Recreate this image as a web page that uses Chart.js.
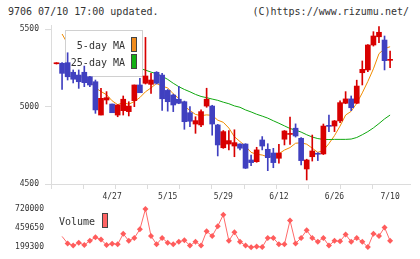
<!DOCTYPE html>
<html>
<head>
<meta charset="utf-8">
<script src="https://cdn.jsdelivr.net/npm/chart.js@4/dist/chart.umd.min.js"></script>
<style>
  body { margin: 0; background: #fff; }
  #wrap { position: relative; width: 420px; height: 259px; font-family: 'DejaVu Sans Mono', monospace; color: #333; }
  #wrap canvas { position: absolute; left: 0; top: 0; }
  .hdr { position: absolute; top: 5px; font-size: 10px; line-height: 14px; white-space: pre; }
</style>
</head>
<body>
<div id="wrap">
  <div class="hdr" style="left:8px">9706 07/10 17:00 updated.</div>
  <div class="hdr" style="right:11px">(C)https://www.rizumu.net/</div>
  <canvas id="priceChart" width="420" height="259"></canvas>
  <canvas id="volumeChart" width="420" height="259"></canvas>
</div>
<script>
// trading days, 2020-04-13 .. 2020-07-10
const dates = ['4/13','4/14','4/15','4/16','4/17','4/20','4/21','4/22','4/23','4/24',
  '4/27','4/28','4/30','5/1','5/7','5/8','5/11','5/12','5/13','5/14',
  '5/15','5/18','5/19','5/20','5/21','5/22','5/25','5/26','5/27','5/28',
  '5/29','6/1','6/2','6/3','6/4','6/5','6/8','6/9','6/10','6/11',
  '6/12','6/15','6/16','6/17','6/18','6/19','6/22','6/23','6/24','6/25',
  '6/26','6/29','6/30','7/1','7/2','7/3','7/6','7/7','7/8','7/9','7/10'];

const open  = [5276,5279,5283,5221,5203,5221,5192,5160,4945,5042,
  5016,4945,4973,4967,5038,5139,5150,5143,5221,5203,
  5104,5074,5047,5031,4960,4887,4881,5003,5003,4881,
  4734,4758,4745,4758,4758,4655,4644,4784,4724,4700,
  4666,4789,4820,4860,4795,4597,4676,4697,4694,4876,
  4874,4907,5021,5049,5021,5218,5236,5397,5450,5429,5298];
const high  = [5283,5283,5347,5236,5236,5261,5195,5171,5118,5096,
  5016,5012,5068,5031,5139,5182,5446,5214,5225,5214,
  5110,5080,5130,5035,5000,4934,4978,5118,5008,4885,
  4845,4844,4850,4760,4760,4687,4737,4806,4760,4730,
  4756,4845,4932,4888,4800,4660,4816,4702,4887,4945,
  4910,5036,5096,5068,5170,5294,5400,5483,5515,5455,5358];
const low   = [5274,5111,5171,5152,5117,5128,5128,4956,4945,5016,
  4960,4934,4945,4939,4999,5089,5145,5085,5145,4975,
  4970,4967,5018,4853,4870,4827,4870,4995,4815,4681,
  4730,4720,4676,4720,4600,4618,4640,4720,4586,4605,
  4634,4752,4755,4803,4623,4526,4648,4651,4690,4838,
  4838,4896,5018,4973,5018,5139,5225,5390,5412,5236,5250];
const close = [5280,5214,5192,5176,5160,5154,5139,4978,5053,5057,
  4960,5010,5047,5003,5139,5089,5197,5171,5150,5050,
  5031,5010,5021,4902,4905,4909,4967,5047,4887,4752,
  4838,4780,4767,4731,4602,4638,4720,4745,4670,4638,
  4700,4842,4825,4810,4651,4655,4713,4692,4874,4872,
  4907,5025,5049,4992,5132,5240,5397,5455,5479,5296,5302];

const ma5 = [null,5468,5405,5300,5204,5179,5164,5121,5097,5076,
  5037,5012,5025,5015,5032,5058,5095,5120,5149,5131,
  5120,5082,5052,5003,4974,4949,4941,4946,4943,4912,
  4898,4861,4805,4774,4744,4704,4692,4687,4675,4682,
  4695,4719,4735,4763,4766,4757,4731,4704,4717,4761,
  4812,4874,4945,4969,5021,5088,5162,5243,5341,5373,5386];
const ma25 = [null,null,null,null,null,null,null,null,null,null,
  null,null,null,null,null,5245,5235,5222,5212,5195,
  5175,5150,5128,5110,5095,5078,5065,5057,5048,5040,
  5028,5018,5004,4995,4978,4965,4950,4938,4925,4908,
  4892,4875,4858,4848,4835,4818,4803,4793,4788,4787,
  4788,4788,4788,4790,4800,4818,4838,4862,4890,4920,4945];

const volume = [null,346400,251400,221400,260500,229200,286500,333400,303400,229200,
  247500,238400,381500,286500,325600,442700,720000,351600,238400,325600,
  260500,238400,273500,294300,221400,273500,221400,416700,351600,485700,
  641900,286500,403700,273500,221400,199300,208400,201000,325600,325600,
  238400,238400,563800,251400,325600,429700,325600,273500,325600,221400,
  286500,281300,372400,273500,325600,273500,200500,381500,351600,468800,286500];

const priceTicks = [4500, 5000, 5500];
const volumeTicks = [199300, 459650, 720000];
const labelEvery = 10;

const UP = '#d80000';
const DOWN = '#4040c0';
const GRID = '#dcdcdc';
const TEXT = '#333';
const xMin = -0.99;
const xMax = 63.58;

Chart.defaults.font.family = "'DejaVu Sans Mono', monospace";
Chart.defaults.color = TEXT;

const candleColors = close.map((c, i) => (c >= open[i] ? UP : DOWN));
const pts = arr => arr.map((v, i) => ({ x: i, y: v }));

// legend box sits over the MA lines but under the candles
const maLegend = {
  id: 'maLegend',
  afterDatasetDraw(chart, args) {
    if (args.index !== 1) return;
    const ctx = chart.ctx;
    ctx.save();
    ctx.fillStyle = '#fff';
    ctx.fillRect(65, 30, 78, 47);
    ctx.strokeStyle = '#d0d0d0';
    ctx.lineWidth = 1;
    ctx.strokeRect(65.5, 30.5, 77, 46);
    ctx.font = "10px 'DejaVu Sans Mono'";
    ctx.fillStyle = TEXT;
    ctx.textAlign = 'right';
    ctx.textBaseline = 'middle';
    ctx.fillText('5-day MA', 125, 46);
    ctx.fillText('25-day MA', 125, 63);
    [['#f08c1e', 37], ['#14b014', 54]].forEach(([c, y]) => {
      ctx.fillStyle = c;
      ctx.fillRect(131, y, 6, 15);
      ctx.strokeStyle = '#444';
      ctx.strokeRect(131.5, y + 0.5, 5, 14);
    });
    ctx.restore();
  }
};

const volLegend = {
  id: 'volLegend',
  afterDraw(chart) {
    const ctx = chart.ctx;
    ctx.save();
    ctx.font = "10px 'DejaVu Sans Mono'";
    ctx.fillStyle = TEXT;
    ctx.textAlign = 'right';
    ctx.textBaseline = 'middle';
    ctx.fillText('Volume', 95, 222);
    ctx.fillStyle = '#ff6464';
    ctx.fillRect(102, 213, 6, 15);
    ctx.strokeStyle = '#444';
    ctx.strokeRect(102.5, 213.5, 5, 14);
    ctx.restore();
  }
};

new Chart(document.getElementById('priceChart'), {
  type: 'bar',
  data: {
    datasets: [
      { type: 'line', label: '5-day MA', data: pts(ma5), borderColor: '#f08c00', borderWidth: 1, pointRadius: 0, order: 3 },
      { type: 'line', label: '25-day MA', data: pts(ma25), borderColor: '#10a810', borderWidth: 1, pointRadius: 0, order: 2 },
      { label: 'wick', data: low.map((l, i) => ({ x: i, y: [l, high[i]] })), backgroundColor: candleColors, barThickness: 1, grouped: false, order: 1 },
      { label: 'body', data: open.map((o, i) => ({ x: i, y: [o, close[i]] })), backgroundColor: candleColors, barThickness: 5, minBarLength: 1, grouped: false, order: 0 }
    ]
  },
  options: {
    responsive: false,
    animation: false,
    layout: { padding: { top: 25, right: 10, bottom: 55, left: 0 } },
    plugins: { legend: { display: false }, tooltip: { enabled: false } },
    scales: {
      x: {
        type: 'linear', min: xMin, max: xMax, offset: false, weight: 1,
        grid: { display: false, drawTicks: false, offset: false },
        border: { display: true, color: GRID },
        ticks: {
          font: { size: 8 }, color: TEXT, padding: 8, maxRotation: 0, autoSkip: false,
          callback: v => dates[v]
        },
        afterBuildTicks: s => {
          s.ticks = dates.map((d, i) => i).filter(i => i > 0 && i % labelEvery === 0).map(v => ({ value: v }));
        },
        afterFit: s => { s.height = 20; }
      },
      xt: {
        type: 'linear', position: 'bottom', min: 0, max: 11.15, offset: false, weight: 0,
        ticks: { display: false, stepSize: 1 },
        grid: { drawOnChartArea: false, tickLength: 5, color: GRID, offset: false },
        border: { display: false },
        afterBuildTicks: s => { s.ticks = s.ticks.filter(t => Number.isInteger(t.value)); },
        afterFit: s => { s.height = 0; }
      },
      y: {
        min: 4500, max: 5526,
        grid: { drawOnChartArea: false, tickLength: 6, color: GRID },
        border: { display: true, color: GRID },
        ticks: { font: { size: 8 }, color: TEXT, padding: 6, callback: v => String(v) },
        afterBuildTicks: s => { s.ticks = priceTicks.map(v => ({ value: v })); },
        afterFit: s => { s.width = 51; }
      }
    }
  },
  plugins: [maLegend]
});

new Chart(document.getElementById('volumeChart'), {
  type: 'line',
  data: {
    datasets: [{
      label: 'Volume',
      data: pts(volume),
      borderColor: '#ff6a6a',
      backgroundColor: '#ff5c5c',
      borderWidth: 1,
      pointStyle: 'rectRot',
      pointRadius: ctx => (ctx.dataIndex < 2 ? 0 : 3),
      pointBorderWidth: 0,
      clip: false
    }]
  },
  options: {
    responsive: false,
    animation: false,
    layout: { padding: { top: 209, right: 10, bottom: 10, left: 0 } },
    plugins: { legend: { display: false }, tooltip: { enabled: false } },
    scales: {
      x: { type: 'linear', min: xMin, max: xMax, display: false },
      y: {
        min: volumeTicks[0], max: volumeTicks[2],
        grid: { display: false, drawTicks: false },
        border: { display: false },
        ticks: { font: { size: 8 }, color: TEXT, padding: 7, callback: v => String(v) },
        afterBuildTicks: s => { s.ticks = volumeTicks.map(v => ({ value: v })); },
        afterFit: s => { s.width = 51; }
      }
    }
  },
  plugins: [volLegend]
});
</script>
</body>
</html>
